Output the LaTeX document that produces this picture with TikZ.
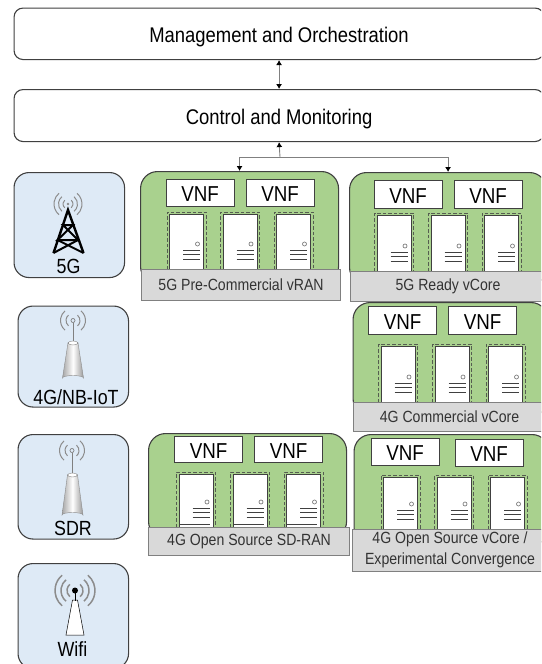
\documentclass[tikz,border=0pt]{standalone}
\usepackage{fontspec}
\setmainfont[FakeStretch=0.87]{Liberation Sans}
\usepackage{tikz}
\usetikzlibrary{arrows.meta}

\definecolor{sitegreen}{HTML}{A9D18E}
\definecolor{siteblue}{HTML}{DEEAF6}
\definecolor{labelgray}{HTML}{D9D9D9}
\definecolor{linegray}{HTML}{404040}
\definecolor{wavegray}{HTML}{8C8C8C}

\tikzset{
  panel/.style={draw=linegray, line width=1.1pt, rounded corners=9pt, fill=white, anchor=north west, inner sep=0pt, font=\fontsize{21.2}{24}\selectfont, text height=18pt, text depth=0.6pt},
  radio/.style={draw=linegray, line width=1.1pt, rounded corners=15pt, fill=siteblue, anchor=north west, inner sep=0pt},
  site/.style={draw=linegray, line width=1.1pt, rounded corners=17pt, fill=sitegreen, anchor=north west, inner sep=0pt},
  tag/.style={draw=gray, line width=1.1pt, fill=labelgray, anchor=north west, inner sep=0pt, align=center, font=\fontsize{16.2}{20.5}\selectfont, text=black!80},
  vnf/.style={draw=linegray, line width=1.1pt, fill=white, anchor=north west, inner sep=0pt, minimum width=68pt, font=\fontsize{21.6}{24}\selectfont, text height=18pt, text depth=0.6pt},
  radiotext/.style={font=\fontsize{20.5}{24}\selectfont},
  link/.style={draw=gray, line width=0.9pt, {Latex[length=5pt,width=6pt,black]}-{Latex[length=5pt,width=6pt,black]}},
  linkto/.style={draw=gray, line width=0.9pt, -{Latex[length=5pt,width=6pt,black]}},
  wave/.style={draw=wavegray, line width=1pt},
}

% server: x left, y top, y bottom of the dashed frame
\newcommand{\server}[3]{
  \draw[draw=linegray!80!sitegreen, line width=1pt, dash pattern=on 3.5pt off 2pt] (#1, #3) -- (#1, #2) -- (#1+39, #2) -- (#1+39, #3) ;
  \fill[white] (#1+2.5, #2+2.5) rectangle (#1+36.5, #3) ;
  \draw[draw=linegray, line width=0.9pt] (#1+2.5, #3) -- (#1+2.5, #2+2.5) -- (#1+36.5, #2+2.5) -- (#1+36.5, #3) ;
  \draw[draw=gray, line width=0.7pt] (#1+30.5, #3-25) circle (2) ;
  \draw[draw=linegray, line width=1pt] (#1+16, #3-18.5) -- (#1+33, #3-18.5) (#1+16, #3-14.5) -- (#1+33, #3-14.5) (#1+16, #3-10) -- (#1+33, #3-10) ;
}
% waves round a point: x, y, list of radii
\newcommand{\waves}[3]{
  \foreach \r in {#3} {
    \draw[wave] (#1, #2)+(-50:\r) arc(-50:50:\r) ;
    \draw[wave] (#1, #2)+(130:\r) arc(130:230:\r) ;
  }
}
% antenna: x centre, y of the top of the cone, y of its foot
\newcommand{\antenna}[3]{
  \shade[left color=gray!70, right color=gray!80, middle color=white, draw=gray!90, line width=0.4pt] (#1-5, #2) -- (#1-10.5, #3) arc(180:360:10.5 and 2.5) -- (#1+5, #2) -- cycle ;
  \draw[draw=gray, fill=white, line width=0.4pt] (#1, #2) ellipse (5 and 2) ;
}

\begin{document}
\begin{tikzpicture}[x=1pt, y=-1pt]
\clip (0, 0) rectangle (541, 664) ;

\node[panel, minimum width=530pt, minimum height=51.5pt] (mgmt) at (13.5, 7.5) {Management and Orchestration}; % mgmt
\node[panel, minimum width=530pt, minimum height=52pt] (control) at (13.5, 89) {Control and Monitoring}; % control

\node[radio, minimum width=110.5pt, minimum height=105pt] (radioFive) at (13.5, 172) {}; % 5G
\node[radio, minimum width=110.5pt, minimum height=101pt] (radioFour) at (17.5, 305.5) {}; % 4G
\node[radio, minimum width=110.5pt, minimum height=104.5pt] (radioSdr) at (17.5, 434) {}; % SDR
\node[radio, minimum width=110.5pt, minimum height=105pt] (radioWifi) at (17.5, 563) {}; % Wifi

\node[site, minimum width=198pt, minimum height=112pt] (ran) at (140, 171) {}; % 5G vRAN
\node[site, minimum width=197pt, minimum height=112pt] (core) at (349, 172) {}; % 5G vCore
\node[site, minimum width=195pt, minimum height=113pt] (comm) at (352.5, 302) {}; % 4G vCore
\node[site, minimum width=198pt, minimum height=105pt] (sdran) at (148, 433) {}; % 4G SD-RAN
\node[site, minimum width=195pt, minimum height=110pt] (open) at (353.5, 434) {}; % 4G open vCore

\coordinate (split) at (280, 157);
\draw[link] (mgmt.south) -- (control.north) ;
\draw[linkto] (split) -- (control.south) ;
\draw[linkto] (split) -| (ran.north) ;
\draw[linkto] (split) -| (core.north) ;

% 5G vRAN
\node[vnf, minimum height=27.5pt] (ranA) at (165.5, 178.5) {VNF};
\node[vnf, minimum height=27.5pt] (ranB) at (245.5, 178.5) {VNF};
\server{167}{212}{269}
\server{220.5}{212}{269}
\server{274}{212}{269}
\node[tag, minimum width=199pt, minimum height=31pt] (ranTag) at (141, 269) {5G Pre-Commercial vRAN};

% 5G vCore
\node[vnf, minimum height=27.5pt] (coreA) at (373.5, 180) {VNF};
\node[vnf, minimum height=27.5pt] (coreB) at (453.5, 180) {VNF};
\server{374.5}{213}{271}
\server{428.5}{213}{271}
\server{482}{213}{271}
\node[tag, minimum width=196pt, minimum height=30pt] (coreTag) at (349.5, 271) {5G Ready vCore};

% 4G vCore
\node[vnf, minimum height=28pt] (commA) at (368, 306) {VNF};
\node[vnf, minimum height=28pt] (commB) at (448, 306) {VNF};
\server{378.5}{344}{402}
\server{432.5}{344}{402}
\server{486}{344}{402}
\node[tag, minimum width=192pt, minimum height=29pt] (commTag) at (353, 402) {4G Commercial vCore};

% 4G SD-RAN
\node[vnf, minimum height=26pt] (sdranA) at (174, 436) {VNF};
\node[vnf, minimum height=26pt] (sdranB) at (254, 436) {VNF};
\server{176.5}{472}{527}
\server{230.5}{472}{527}
\server{284}{472}{527}
\draw[draw=linegray, line width=0.9pt] (179, 524) -- (209.5, 524) (233, 524) -- (263.5, 524) (286.5, 524) -- (317, 524) ;
\node[tag, minimum width=201pt, minimum height=28pt] (sdranTag) at (148, 527) {4G Open Source SD-RAN};

% 4G open vCore
\node[vnf, minimum height=27pt] (openA) at (370.5, 438) {VNF};
\node[vnf, minimum height=27pt] (openB) at (454.5, 439) {VNF};
\server{381}{475}{529}
\server{434.5}{475}{529}
\server{488}{475}{529}
\node[tag, minimum width=195pt, minimum height=42pt] (openTag) at (352, 528.5) {4G Open Source vCore /\\Experimental Convergence};

% 5G tower
\fill[wavegray] (68, 204) circle (1.4) ;
\waves{68}{204}{5,9.5,14}
\draw[black, line width=2.4pt, line join=miter] (53.5, 253) -- (68, 210) -- (83.5, 253) ;
\draw[black, line width=2pt] (63, 225) -- (73, 225) -- (57.5, 240) -- (78, 240) -- cycle ;
\draw[black, line width=2pt] (57.5, 240) -- (83.5, 253) (78, 240) -- (53.5, 253) ;
\node[radiotext] (textFive) at (68.5, 266) {5G};

% 4G antenna
\draw[draw=gray, line width=0.7pt] (73, 320.5) circle (2) ;
\waves{73}{320.5}{7,12.5}
\draw[draw=gray, line width=0.9pt] (73, 323) -- (73, 343) ;
\antenna{73}{343}{378}
\node[radiotext] (textFour) at (76, 397) {4G/NB-IoT};

% SDR antenna
\draw[draw=gray, line width=0.7pt] (72, 450.5) circle (2) ;
\waves{72}{450.5}{7,12.5}
\draw[draw=gray, line width=0.9pt] (72, 453) -- (72, 475) ;
\antenna{72.5}{475}{515}
\node[radiotext] (textSdr) at (73, 528) {SDR};

% Wifi antenna
\begin{scope}[wave/.append style={line width=1.5pt}]
\waves{75}{590.5}{8,14,20}
\end{scope}
\draw[draw=black, fill=white, line width=0.5pt] (72.5, 600) -- (66, 635) -- (84, 635) -- (77.5, 600) -- cycle ;
\draw[black, line width=1pt] (75, 590.5) -- (75, 601) ;
\fill[black] (75, 590.5) circle (3) ;
\node[radiotext] (textWifi) at (72.5, 649) {Wifi};
\end{tikzpicture}
\end{document}
